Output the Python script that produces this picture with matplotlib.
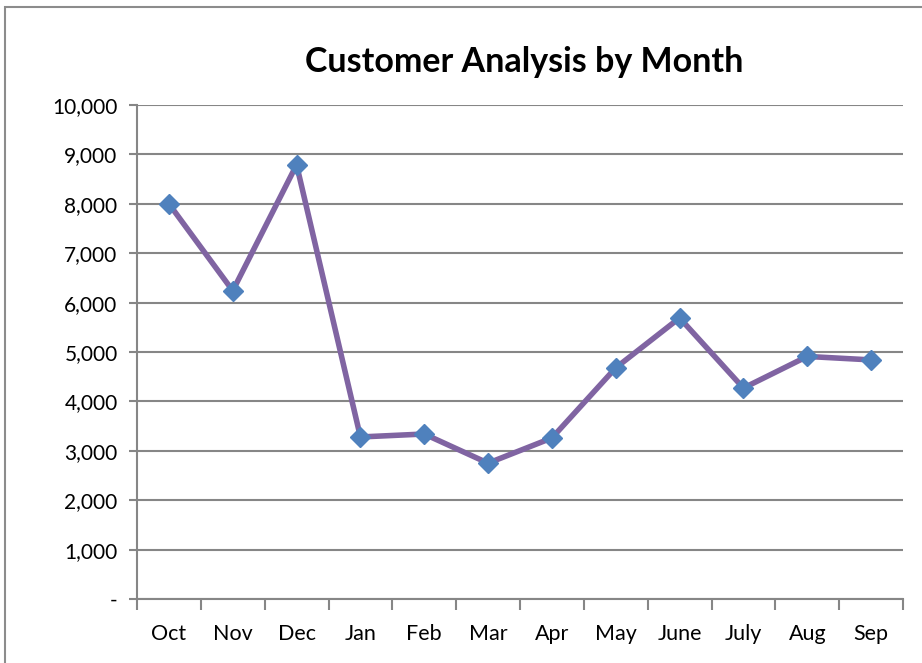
import matplotlib
matplotlib.use("Agg")
import matplotlib.pyplot as plt
from matplotlib.patches import Rectangle
from matplotlib.ticker import FuncFormatter, FixedLocator
import numpy as np

months = ["Oct", "Nov", "Dec", "Jan", "Feb", "Mar", "Apr", "May", "June", "July", "Aug", "Sep"]
customers = [8000, 6240, 8790, 3280, 3340, 2750, 3260, 4680, 5690, 4270, 4910, 4840]
title = "Customer Analysis by Month"

plt.rcParams['font.family'] = ['Lato', 'DejaVu Sans']

fig = plt.figure(figsize=(9.22, 6.63), dpi=100)
fig.patches.append(Rectangle((5/922, -0.1), 1.2, 1.1 - 7/663, transform=fig.transFigure,
                             fill=False, edgecolor="#8c8c8c", linewidth=1.5))
ax = fig.add_axes([137/922, 1 - 599/663, 766/922, 494/663])

x = np.arange(len(months))
ax.plot(x, customers, color="#8064A2", linewidth=4, marker="D", markersize=10,
        markerfacecolor="#4F81BD", markeredgecolor="#4F81BD", zorder=3, solid_joinstyle="round")

ax.set_xlim(-0.5, len(months) - 0.5)
ax.set_ylim(0, 10000)
ax.set_yticks(np.arange(0, 10001, 1000))
ax.yaxis.set_major_formatter(FuncFormatter(lambda v, p: "-" if v == 0 else f"{int(v):,}"))
ax.xaxis.set_major_locator(FixedLocator(np.arange(-0.5, len(months), 1)))
ax.xaxis.set_major_formatter(FuncFormatter(lambda v, p: ""))
ax.set_xticks(x, minor=True)
ax.set_xticklabels(months, minor=True)
ax.tick_params(axis="x", which="minor", length=0, pad=18, labelsize=15.5)
ax.tick_params(axis="x", which="major", length=8, width=1.5, color="#868686", direction="out")
ax.tick_params(axis="y", length=6, width=1.5, color="#868686", labelsize=15, pad=8)

ax.grid(axis="y", color="#868686", linewidth=1.5)
ax.set_axisbelow(True)
for s in ["top", "right"]:
    ax.spines[s].set_visible(False)
for s in ["left", "bottom"]:
    ax.spines[s].set_color("#868686")
    ax.spines[s].set_linewidth(1.5)

fig.text(524/922, 1 - 62/663, title, ha="center", va="center", fontsize=24.5, fontweight="bold")

fig.savefig("out.png", dpi=100)
